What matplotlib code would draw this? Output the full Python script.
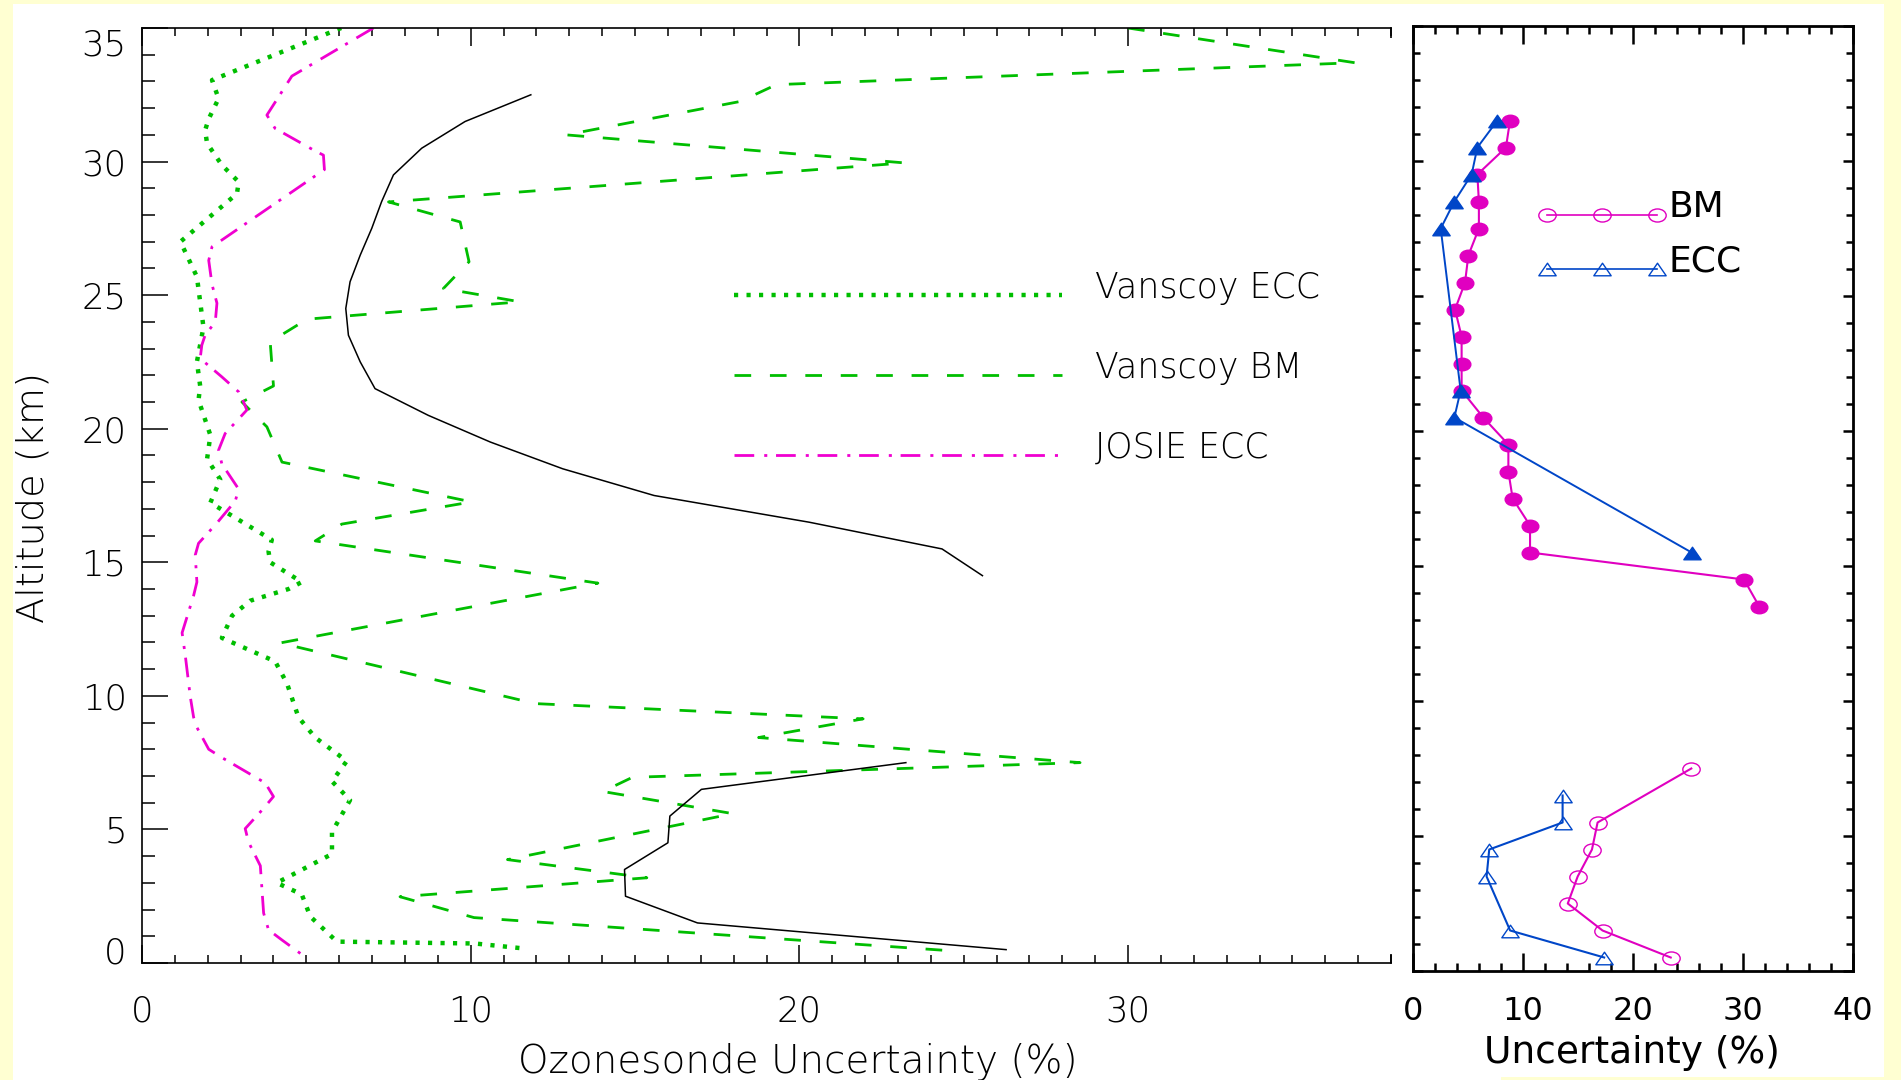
import matplotlib
matplotlib.use("Agg")
import matplotlib.pyplot as plt
from matplotlib.path import Path
from matplotlib.patches import Rectangle
from matplotlib.ticker import MultipleLocator
import numpy as np

# ---------------- data ----------------
# Left panel: Vanscoy ECC (green dotted)
vecc_unc = [6.06, 2.13, 2.33, 2.03, 1.92, 1.98, 2.43, 2.94, 2.89, 1.17, 1.67, 1.87, 1.67, 1.77, 1.72,
            2.08, 2.03, 1.98, 2.38, 2.08, 3.95, 3.85, 3.90, 4.86, 4.46, 3.29, 2.74, 2.43, 4.05, 4.41,
            4.76, 5.27, 6.23, 5.78, 6.33, 5.78, 5.78, 4.10, 4.86, 5.12, 5.93, 10.13, 11.65]
vecc_alt = [35.0, 33.05, 32.36, 31.6, 31.17, 30.68, 29.87, 29.24, 28.8, 27.0, 25.69, 23.8, 22.5, 21.6, 21.07,
            19.76, 19.3, 18.87, 18.1, 17.23, 15.84, 15.4, 15.0, 14.26, 14.0, 13.56, 13.0, 12.17, 11.29, 10.47,
            9.2, 8.44, 7.56, 6.8, 6.1, 4.9, 4.08, 3.0, 2.57, 1.74, 0.8, 0.73, 0.54]

# Left panel: Vanscoy BM (green dashed)
vbm_unc = [30.0, 36.9, 19.3, 18.2, 12.9, 23.2, 7.5, 9.68, 9.95, 9.17, 11.5, 5.02, 3.9, 4.0, 3.04, 3.8, 4.26,
           10.03, 6.08, 5.27, 13.87, 4.2, 11.97, 21.94, 18.76, 28.54, 14.92, 14.02, 17.98, 11.12, 15.36,
           7.85, 10.1, 24.64]
vbm_alt = [35.0, 33.7, 32.88, 32.25, 31.0, 29.95, 28.49, 27.74, 26.25, 25.25, 24.75, 24.1, 23.25, 21.6, 21.0,
           20.07, 18.75, 17.26, 16.43, 15.8, 14.22, 11.98, 9.71, 9.14, 8.44, 7.5, 6.95, 6.42, 5.59, 3.87,
           3.19, 2.48, 1.7, 0.455]

# Left panel: JOSIE ECC (magenta dash-dot)
josie_unc = [7.04, 4.56, 3.80, 4.05, 5.22, 5.52, 5.55, 2.13, 2.03, 2.13, 2.28, 2.23, 1.92, 1.82, 1.77, 2.43,
             2.94, 3.09, 3.19, 2.53, 2.33, 2.43, 2.94, 2.84, 2.28, 1.72, 1.62, 1.67, 1.57, 1.22, 1.32, 1.47,
             1.57, 1.67, 2.03, 2.43, 3.75, 4.00, 3.70, 3.14, 3.24, 3.60, 3.70, 3.85, 4.26, 4.96]
josie_alt = [35.0, 33.2, 31.74, 31.24, 30.43, 30.24, 29.7, 26.81, 26.3, 25.4, 24.7, 24.0, 23.5, 23.13, 22.63,
             21.94, 21.38, 21.0, 20.7, 19.82, 19.2, 18.68, 17.74, 17.3, 16.47, 15.71, 15.27, 14.26, 13.75,
             12.36, 11.48, 9.96, 9.2, 8.82, 8.0, 7.69, 6.74, 6.23, 5.79, 5.03, 4.53, 3.64, 1.87, 1.24, 0.86, 0.23]

# Left panel: black solid profile, upper and lower parts
comb_alt_hi = [32.5, 31.5, 30.5, 29.5, 28.5, 27.5, 26.5, 25.5, 24.5, 23.5, 22.5, 21.5, 20.5, 19.5, 18.5,
               17.5, 16.5, 15.5, 14.5]
comb_unc_hi = [11.83, 9.83, 8.51, 7.65, 7.29, 6.99, 6.64, 6.33, 6.2, 6.28, 6.64, 7.09, 8.71, 10.6, 12.8,
               15.58, 20.3, 24.34, 25.57]
comb_alt_lo = [7.5, 6.5, 5.5, 4.5, 3.5, 2.5, 1.5, 0.5]
comb_unc_lo = [23.24, 17.02, 16.06, 16.0, 14.68, 14.71, 16.9, 26.29]

left_labels = ["Vanscoy ECC", "Vanscoy BM", "JOSIE ECC"]
left_legend_x = [18.0, 28.0]
left_legend_y = [25.0, 22.0, 19.0]

# Right panel
bm_alt_hi = [31.5, 30.5, 29.5, 28.5, 27.5, 26.5, 25.5, 24.5, 23.5, 22.5, 21.5, 20.5, 19.5, 18.5, 17.5,
             16.5, 15.5, 14.5, 13.5]
bm_unc_hi = [8.82, 8.45, 5.85, 5.99, 5.99, 5.03, 4.73, 3.82, 4.42, 4.42, 4.42, 6.39, 8.67, 8.67, 9.06,
             10.64, 10.64, 30.09, 31.48]
ecc_alt_hi = [31.5, 30.5, 29.5, 28.5, 27.5, 21.5, 20.5, 15.5]
ecc_unc_hi = [7.67, 5.85, 5.33, 3.76, 2.52, 4.33, 3.76, 25.33]
bm_alt_lo = [7.5, 5.5, 4.5, 3.5, 2.5, 1.5, 0.5]
bm_unc_lo = [25.3, 16.78, 16.27, 14.97, 14.07, 17.23, 23.43]
ecc_alt_lo = [6.5, 5.5, 4.5, 3.5, 1.5, 0.5]
ecc_unc_lo = [13.6, 13.6, 6.93, 6.69, 8.83, 17.38]

right_labels = ["BM", "ECC"]
right_legend_x = [12.15, 17.15, 22.15]
right_legend_y = [28.0, 26.0]

# ---------------- style ----------------
plt.rcParams['font.family'] = ['DejaVu Sans']
plt.rcParams['lines.scale_dashes'] = False

GREEN = '#00BE00'
MAGENTA_L = '#F000D0'
MAGENTA_R = '#E000C0'
BLUE = '#0046C8'
YELLOW = '#FFFFD2'

W, H = 1901, 1080
fig = plt.figure(figsize=(W / 100, H / 100), dpi=100, facecolor=YELLOW)
fig.add_artist(Rectangle((13 / W, 0), (1884 - 13) / W, (H - 4) / H, transform=fig.transFigure,
                         facecolor='white', edgecolor='none', zorder=-5))
fig.add_artist(Rectangle((1501 / W, 0), (1884 - 1501) / W, 3 / H, transform=fig.transFigure,
                         facecolor=YELLOW, edgecolor='none', zorder=-4))

ax1 = fig.add_axes([142 / W, (H - 963) / H, (1391 - 142) / W, (963 - 28) / H])
ax2 = fig.add_axes([1413 / W, (H - 971) / H, (1853 - 1413) / W, (971 - 26) / H])

# ----- left panel -----
ax1.set_xlim(0, 38)
ax1.set_ylim(0, 35)
ax1.plot(vecc_unc, vecc_alt, color=GREEN, lw=3.2, dashes=(3.0, 6.0), dash_capstyle='butt')
ax1.plot(vbm_unc, vbm_alt, color=GREEN, lw=2.0, dashes=(12, 13.5), dash_capstyle='butt')
ax1.plot(josie_unc, josie_alt, color=MAGENTA_L, lw=2.0, dashes=(14.2, 7.2, 2.2, 6.3), dash_capstyle='butt')
ax1.plot(comb_unc_hi, comb_alt_hi, color='black', lw=1.1)
ax1.plot(comb_unc_lo, comb_alt_lo, color='black', lw=1.1)

styles = [dict(lw=3.2, dashes=(3.0, 6.0), color=GREEN),
          dict(lw=2.0, dashes=(12, 13.5), color=GREEN),
          dict(lw=2.0, dashes=(14.2, 7.2, 2.2, 6.3), color=MAGENTA_L)]
for lab, yv, st in zip(left_labels, left_legend_y, styles):
    ax1.plot(left_legend_x, [yv, yv], dash_capstyle='butt', **st)
    ax1.text(29.0, yv + 0.28, lab, fontsize=25, fontweight='light', va='center', ha='left')

ax1.xaxis.set_major_locator(MultipleLocator(10))
ax1.xaxis.set_minor_locator(MultipleLocator(1))
ax1.yaxis.set_major_locator(MultipleLocator(5))
ax1.yaxis.set_minor_locator(MultipleLocator(1))
ax1.tick_params(axis='x', which='major', direction='in', length=13, width=1.1, top=True, bottom=True,
                labelsize=25.5, pad=23)
ax1.tick_params(axis='x', which='minor', direction='in', length=6, width=1.1, top=True, bottom=True)
ax1.tick_params(axis='y', which='major', direction='in', length=18.7, width=1.1, left=True, right=False,
                labelsize=25.5, pad=11)
ax1.tick_params(axis='y', which='minor', direction='in', length=9, width=1.1, left=True, right=False)
for sp in ax1.spines.values():
    sp.set_linewidth(1.2)
for lab in ax1.get_xticklabels() + ax1.get_yticklabels():
    lab.set_fontweight('light')

ax1.set_xlabel("Ozonesonde Uncertainty (%)", fontsize=28, fontweight='light')
ax1.xaxis.label.set_va('center')
ax1.xaxis.set_label_coords(0.525, -0.1059)
ax1.set_ylabel("Altitude (km)", fontsize=27.5, fontweight='light')
ax1.yaxis.label.set_va('center')
ax1.yaxis.set_label_coords(-0.0875, 0.498)

# cover the right spine of the left panel (hidden behind the right-hand picture)
fig.add_artist(Rectangle((1385 / W, (H - 954) / H), 12 / W, (954 - 38) / H, transform=fig.transFigure,
                         facecolor='white', edgecolor='none', zorder=2))

# ----- right panel -----
ell = Path.unit_circle().transformed(matplotlib.transforms.Affine2D().scale(1.33, 1.0))
tri = Path([(-0.69, -0.5), (0.69, -0.5), (0.0, 0.5), (-0.69, -0.5)],
           [Path.MOVETO, Path.LINETO, Path.LINETO, Path.CLOSEPOLY])

ax2.set_xlim(0, 40)
ax2.set_ylim(0, 35)
ax2.plot(bm_unc_hi, bm_alt_hi, color=MAGENTA_R, lw=1.5, marker=ell, markersize=12,
         markerfacecolor=MAGENTA_R, markeredgecolor=MAGENTA_R)
ax2.plot(ecc_unc_hi, ecc_alt_hi, color=BLUE, lw=1.4, marker=tri, markersize=12.5,
         markerfacecolor=BLUE, markeredgecolor=BLUE)
ax2.plot(bm_unc_lo, bm_alt_lo, color=MAGENTA_R, lw=1.5, marker=ell, markersize=12.5,
         markerfacecolor='none', markeredgecolor=MAGENTA_R, markeredgewidth=1.0)
ax2.plot(ecc_unc_lo, ecc_alt_lo, color=BLUE, lw=1.5, marker=tri, markersize=12.5,
         markerfacecolor='none', markeredgecolor=BLUE, markeredgewidth=1.0)

ax2.plot(right_legend_x, [right_legend_y[0]] * 3, color=MAGENTA_R, lw=1.2, marker=ell, markersize=12.5,
         markerfacecolor='none', markeredgecolor=MAGENTA_R, markeredgewidth=1.0)
ax2.plot(right_legend_x, [right_legend_y[1]] * 3, color=BLUE, lw=1.2, marker=tri, markersize=12.5,
         markerfacecolor='none', markeredgecolor=BLUE, markeredgewidth=1.0)
for lab, yv in zip(right_labels, right_legend_y):
    ax2.text(23.2, yv + 0.28, lab, fontsize=26, va='center', ha='left')

ax2.xaxis.set_major_locator(MultipleLocator(10))
ax2.xaxis.set_minor_locator(MultipleLocator(2))
ax2.yaxis.set_major_locator(MultipleLocator(5))
ax2.yaxis.set_minor_locator(MultipleLocator(1))
ax2.tick_params(axis='x', which='major', direction='in', length=13, width=1.8, top=True, bottom=True,
                labelsize=23, pad=18)
ax2.tick_params(axis='x', which='minor', direction='in', length=6, width=1.8, top=True, bottom=True)
ax2.tick_params(axis='y', which='major', direction='in', length=7.2, width=1.8, left=True, right=True,
                labelleft=False)
ax2.tick_params(axis='y', which='minor', direction='in', length=4.8, width=1.8, left=True, right=True)
for sp in ax2.spines.values():
    sp.set_linewidth(2.0)
ax2.set_xlabel("Uncertainty (%)", fontsize=27)
ax2.xaxis.label.set_va('center')
ax2.xaxis.set_label_coords(0.4977, -0.0868)

fig.canvas.draw()
ylabs = ax1.get_yticklabels()
for lab in ylabs:
    if lab.get_text() == '35':
        lab.set_va('top')
    elif lab.get_text() == '0':
        lab.set_va('baseline')

fig.savefig("out.png", dpi=100, facecolor=YELLOW)
